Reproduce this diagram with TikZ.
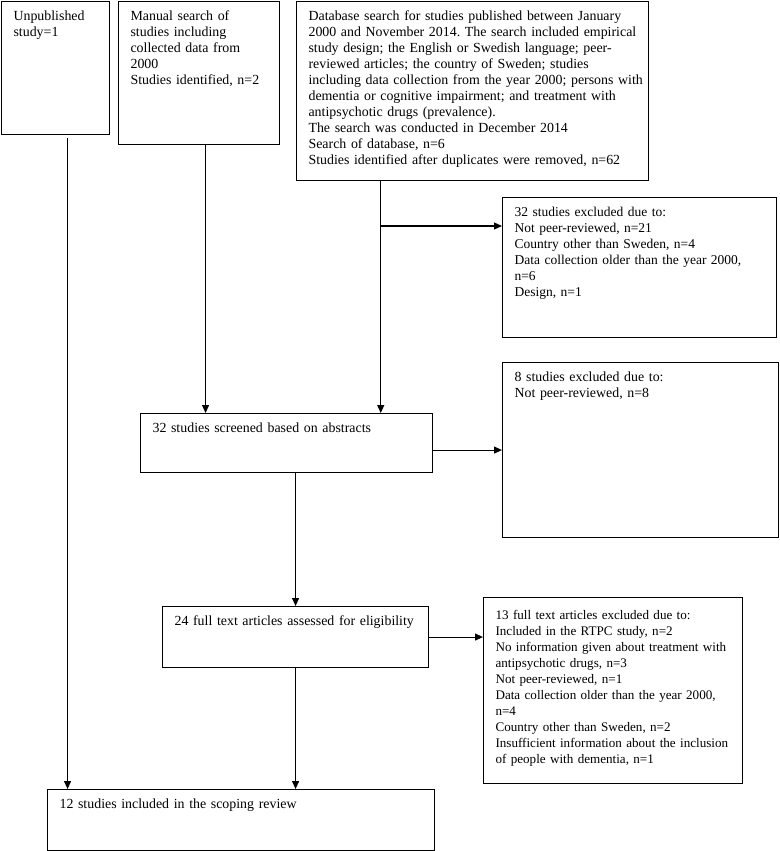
\documentclass[tikz,border=0pt]{standalone}
\usepackage{fontspec}
\setmainfont{Liberation Serif}
\usetikzlibrary{calc,arrows.meta}

\begin{document}
\begin{tikzpicture}[
x=1pt, y=-1pt,
box/.style={
	draw, line width=1.1pt, anchor=north west,
	align=left, inner xsep=4pt, inner ysep=5pt,
	text height=14pt, font=\fontsize{13.9}{16}\selectfont,
	execute at begin node={\leftskip=8pt\frenchspacing\hyphenpenalty=10000}
},
>={Triangle[length=8pt,width=7pt]}, line width=1.1pt
]
\useasboundingbox (0,0) rectangle (779,851);
\node[box,text width=100pt,text depth=109pt] (unpub) at (1,1) {Unpublished\\study=1};
\node[box,text width=153pt,text depth=119pt] (manual) at (118,1)
	{Manual search of\\studies including\\collected data from\\2000\\Studies identified, n=2};
\node[box,text width=344pt,text depth=155pt] (db) at (296,1)
	{Database search for studies published between January\\
	2000 and November 2014. The search included empirical\\
	study design; the English or Swedish language; peer-\\
	reviewed articles; the country of Sweden; studies\\
	including data collection from the year 2000; persons with\\
	dementia or cognitive impairment; and treatment with\\
	antipsychotic drugs (prevalence).\\
	The search was conducted in December 2014\\
	Search of database, n=6\\
	Studies identified after duplicates were removed, n=62};
\node[box,text width=266pt,text depth=116pt,
	font=\fontsize{13.5}{16}\selectfont] (excl1) at (502,197)
	{32 studies excluded due to:\\Not peer-reviewed, n=21\\Country other than Sweden, n=4\\
	Data collection older than the year 2000,\\n=6\\Design, n=1};
\node[box,text width=284pt,text depth=35pt] (screened) at (140,413)
	{32 studies screened based on abstracts};
\node[box,text width=268pt,text depth=151pt] (excl2) at (502,362)
	{8 studies excluded due to:\\Not peer-reviewed, n=8};
\node[box,text width=258pt,text depth=37pt] (full) at (162,606)
	{24 full text articles assessed for eligibility};
\node[box,text width=251pt,text height=17pt,text depth=159pt,
	font=\fontsize{13.1}{16}\selectfont] (excl3) at (483,597)
	{13 full text articles excluded due to:\\Included in the RTPC study, n=2\\
	No information given about treatment with\\antipsychotic drugs, n=3\\
	Not peer-reviewed, n=1\\Data collection older than the year 2000,\\n=4\\
	Country other than Sweden, n=2\\Insufficient information about the inclusion\\
	of people with dementia, n=1};
\node[box,text width=379pt,text depth=37pt] (incl) at (47,789)
	{12 studies included in the scoping review};
\coordinate (u) at ($(unpub.south west)!.61!(unpub.south east)+(0,3)$);
\coordinate (m) at ($(manual.south west)!.54!(manual.south east)$);
\coordinate (d) at ($(db.south west)!.24!(db.south east)$);
\coordinate (b) at ($(excl1.north west)+(0,29)$);
\draw[->] (u) -- (u |- incl.north);
\draw[->] (m) -- (m |- screened.north);
\draw[->] (d) -- (d |- screened.north);
\draw[->] (d |- b) -- (b);
\draw[->] (excl2.west -| screened.east) -- (excl2.west);
\draw[->] (full.north |- screened.south) -- (full.north);
\draw[->] (full.east) -- (full.east -| excl3.west);
\draw[->] (full.south) -- (full.south |- incl.north);
\end{tikzpicture}
\end{document}
